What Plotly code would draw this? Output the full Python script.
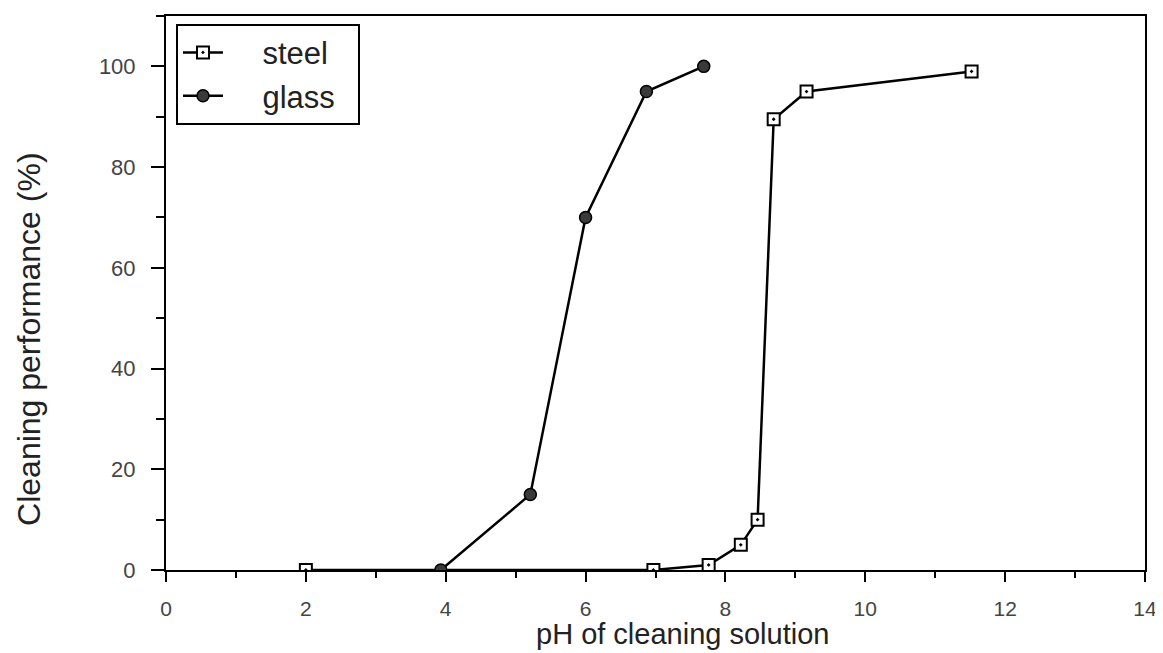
import plotly.graph_objects as go

# Data
steel_ph = [2.0, 6.97, 7.76, 8.22, 8.46, 8.69, 9.16, 11.52]
steel_perf = [0, 0, 1, 5, 10, 89.5, 95, 99]
glass_ph = [3.93, 5.21, 6.0, 6.87, 7.69]
glass_perf = [0, 15, 70, 95, 100]

x_ticks = [0, 2, 4, 6, 8, 10, 12, 14]
y_ticks = [0, 20, 40, 60, 80, 100]

FONT = "Liberation Sans, Arial, Helvetica, sans-serif"

fig = go.Figure()
fig.add_trace(go.Scatter(
    x=steel_ph, y=steel_perf, mode="lines+markers", name="    steel  ",
    line=dict(color="black", width=2.5),
    marker=dict(symbol="square-dot", size=12, color="white",
                line=dict(color="black", width=2)),
))
fig.add_trace(go.Scatter(
    x=glass_ph, y=glass_perf, mode="lines+markers", name="    glass  ",
    line=dict(color="black", width=2.5),
    marker=dict(symbol="circle", size=12, color="#3a3a3a",
                line=dict(color="black", width=1.5)),
))

# page body has an 8px margin, so the figure is sized to fit the window
fig.update_layout(
    width=1155, height=645,
    margin=dict(l=158, r=9, t=6, b=83),
    paper_bgcolor="white", plot_bgcolor="white",
    font=dict(family=FONT, color="#333"),
    showlegend=True,
    legend=dict(
        x=0.0102, y=0.986, xanchor="left", yanchor="top",
        bgcolor="white", bordercolor="black", borderwidth=2,
        font=dict(size=31, color="#222", family=FONT),
        itemwidth=40, tracegroupgap=4,
    ),
    xaxis=dict(
        range=[0, 14], tickvals=x_ticks, ticktext=[str(v) for v in x_ticks],
        showgrid=False, zeroline=False,
        showline=True, linecolor="black", linewidth=2, mirror=True,
        ticks="outside", ticklen=10, tickwidth=2, tickcolor="black",
        tickfont=dict(size=21, color="#444"),
        ticklabelstandoff=9, ticklabeloverflow="allow",
        minor=dict(dtick=1, ticks="outside", ticklen=6, tickwidth=2, tickcolor="black"),
    ),
    yaxis=dict(
        range=[0, 110], tickvals=y_ticks, ticktext=[str(v) for v in y_ticks],
        showgrid=False, zeroline=False,
        showline=True, linecolor="black", linewidth=2, mirror=True,
        ticks="outside", ticklen=13, tickwidth=2, tickcolor="black",
        tickfont=dict(size=22, color="#444"),
        ticklabelstandoff=11, ticklabeloverflow="allow",
        minor=dict(dtick=10, ticks="outside", ticklen=8, tickwidth=2, tickcolor="black"),
    ),
    annotations=[
        dict(text="pH of cleaning solution", xref="paper", yref="paper",
             x=0.528, y=-0.1475, xanchor="center", yanchor="bottom",
             showarrow=False, font=dict(size=29, color="#222", family=FONT)),
        dict(text="Cleaning performance (%)", xref="paper", yref="paper",
             x=-0.140, y=0.417, xanchor="center", yanchor="middle", textangle=-90,
             showarrow=False, font=dict(size=32, color="#222", family=FONT)),
    ],
)

fig.write_html("out.html")
